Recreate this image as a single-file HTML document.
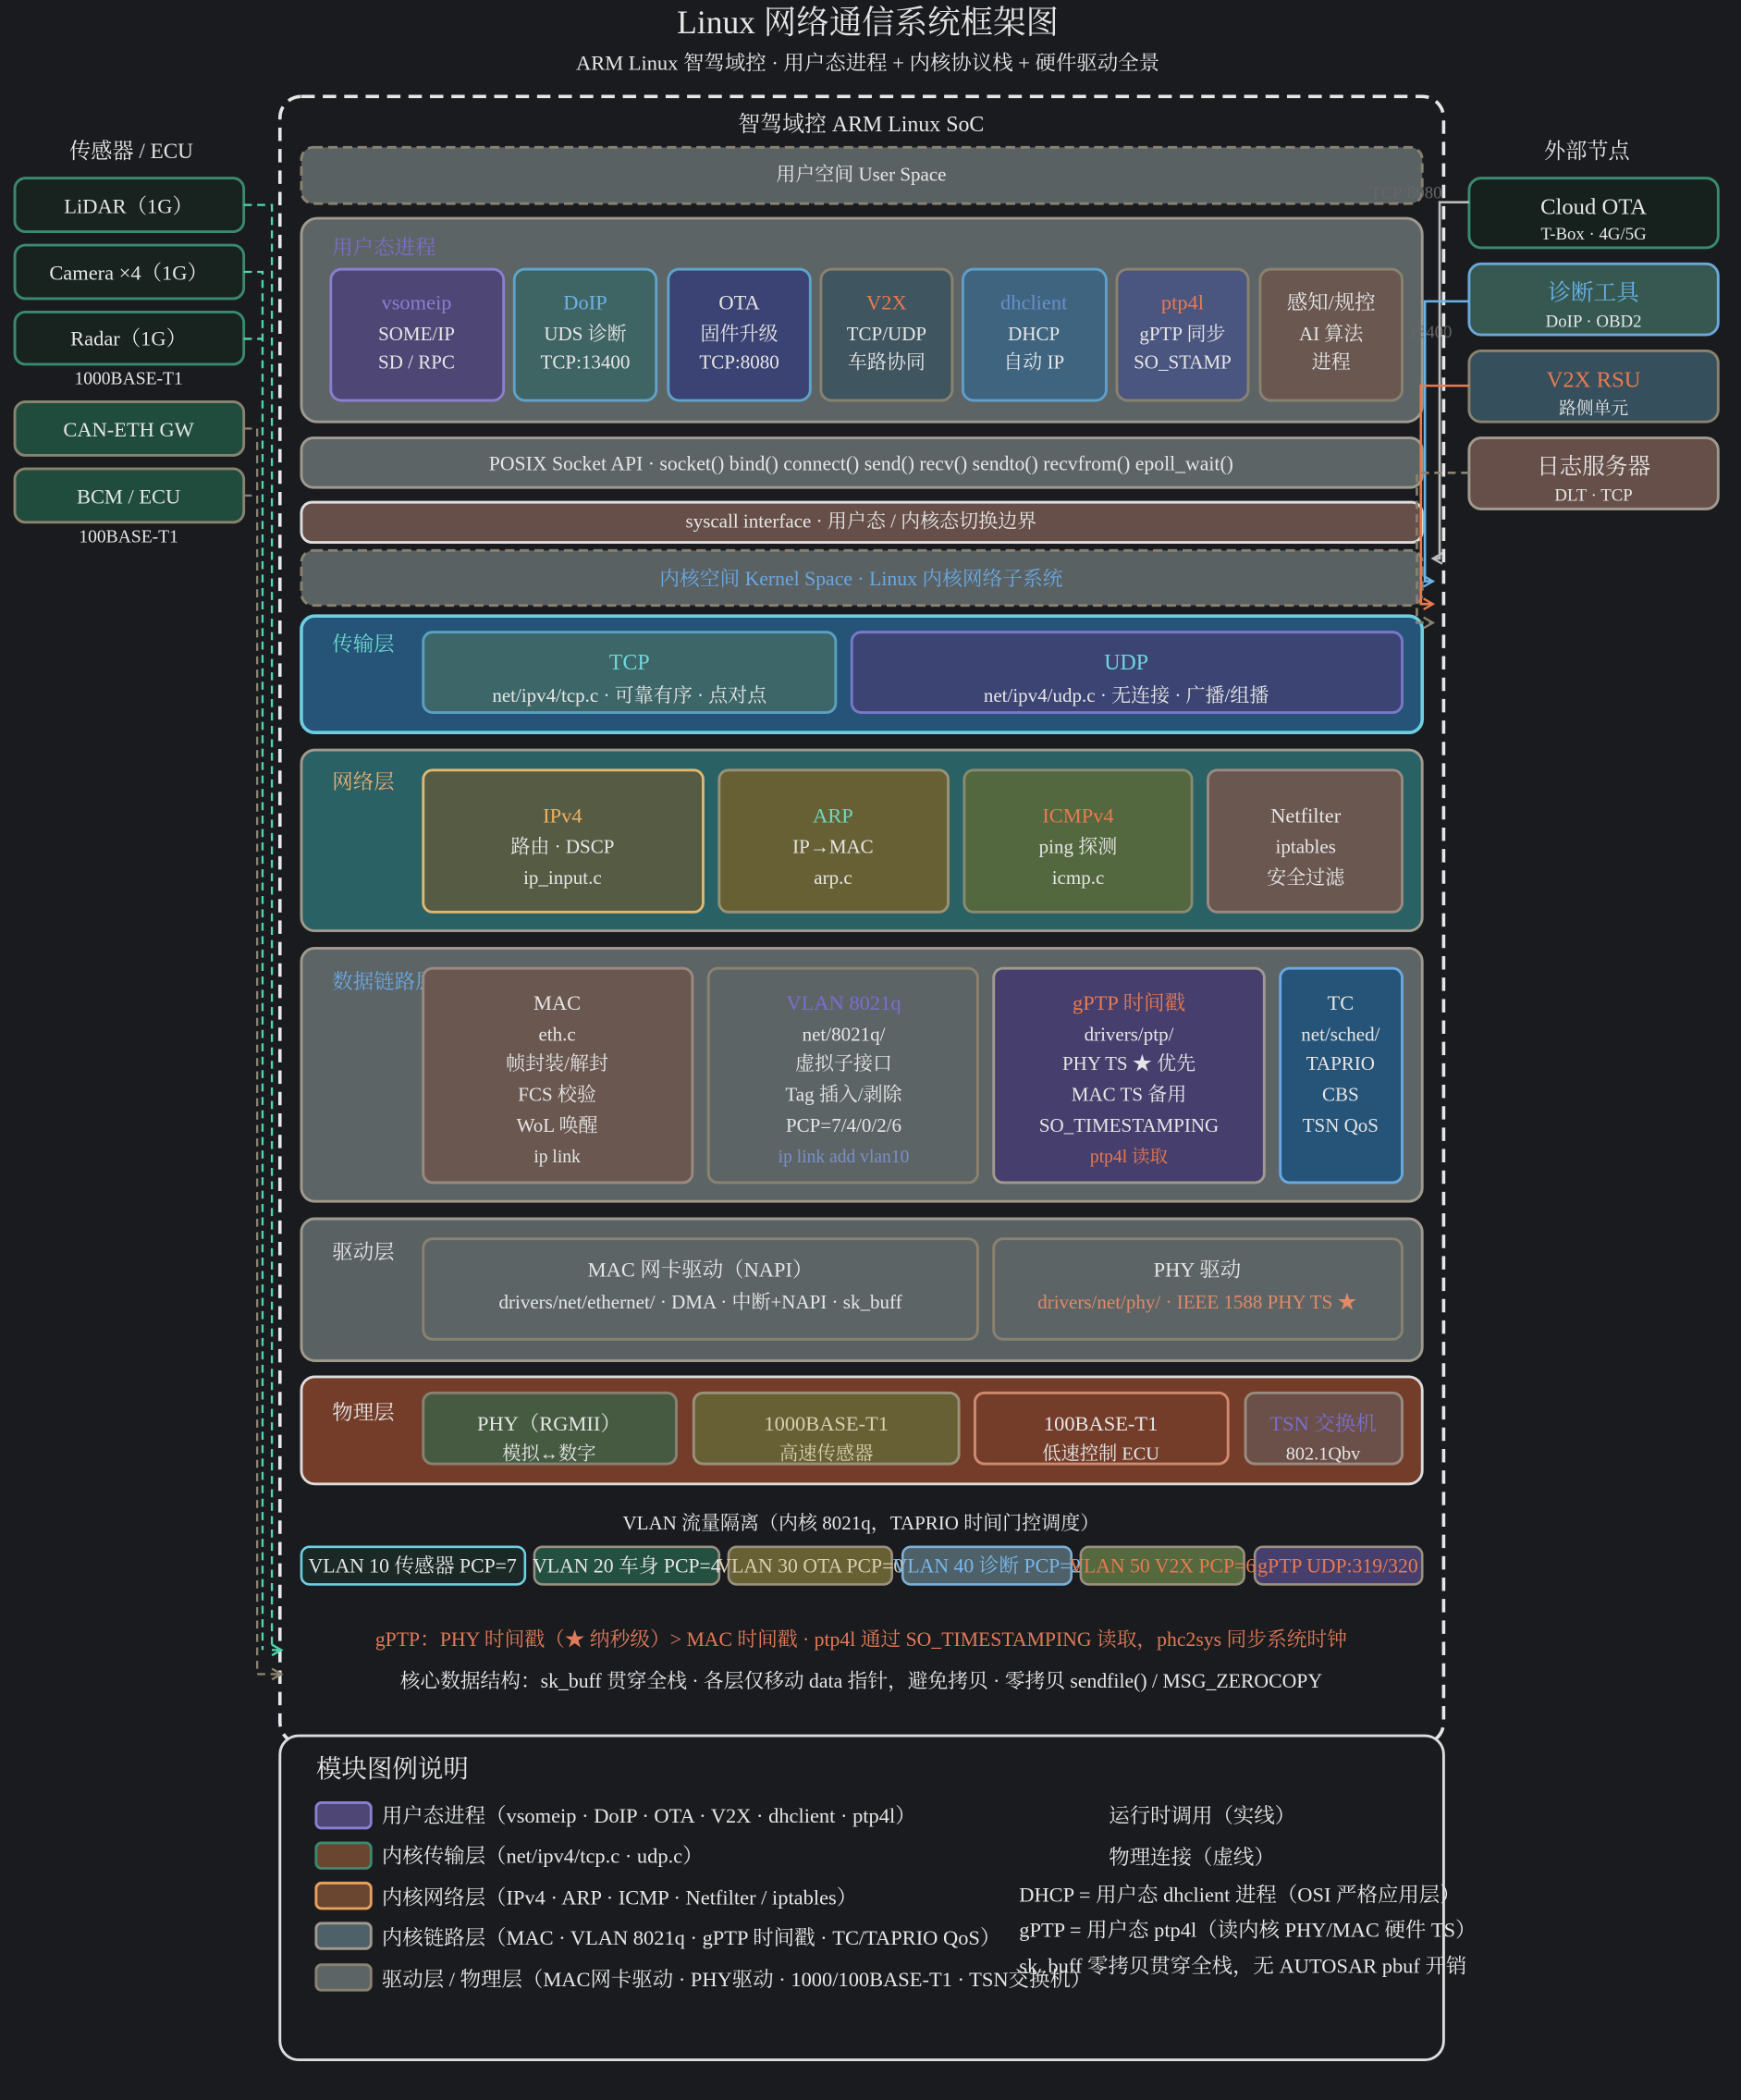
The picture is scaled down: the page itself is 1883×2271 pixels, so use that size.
<!DOCTYPE html>
<html><head><meta charset="utf-8"><style>
html,body{margin:0;padding:0;background:#1a1b1e;}
svg{display:block;}
text{font-family:"Liberation Serif","Noto Serif CJK SC",serif;fill:#e6e6e6;}
.c{text-anchor:middle;}
</style></head><body>
<svg width="1883" height="2271" viewBox="0 0 1300 1568" xmlns="http://www.w3.org/2000/svg">
<defs>
<marker id="ag" markerWidth="10" markerHeight="10" refX="8" refY="5" orient="auto" markerUnits="userSpaceOnUse"><path d="M1,1 L8,5 L1,9" fill="none" stroke="#bbb" stroke-width="1.6"/></marker>
<marker id="ab" markerWidth="10" markerHeight="10" refX="8" refY="5" orient="auto" markerUnits="userSpaceOnUse"><path d="M1,1 L8,5 L1,9" fill="none" stroke="#6ab4e8" stroke-width="1.6"/></marker>
<marker id="ao" markerWidth="10" markerHeight="10" refX="8" refY="5" orient="auto" markerUnits="userSpaceOnUse"><path d="M1,1 L8,5 L1,9" fill="none" stroke="#e87a50" stroke-width="1.6"/></marker>
<marker id="at" markerWidth="10" markerHeight="10" refX="8" refY="5" orient="auto" markerUnits="userSpaceOnUse"><path d="M1,1 L8,5 L1,9" fill="none" stroke="#4fd8b0" stroke-width="1.6"/></marker>
<marker id="ay" markerWidth="10" markerHeight="10" refX="8" refY="5" orient="auto" markerUnits="userSpaceOnUse"><path d="M1,1 L8,5 L1,9" fill="none" stroke="#8a8270" stroke-width="1.6"/></marker>
</defs>
<rect width="1300" height="1568" fill="#1a1b1e"/>

<text x="648" y="25" class="c" font-size="24.5">Linux 网络通信系统框架图</text>
<text x="648" y="52" class="c" font-size="15.5">ARM Linux 智驾域控 · 用户态进程 + 内核协议栈 + 硬件驱动全景</text>

<rect x="209" y="72" width="869" height="1230" rx="16" fill="none" stroke="#e6e6e6" stroke-width="2.5" stroke-dasharray="10,6"/>
<text x="643" y="98" class="c" font-size="16.5">智驾域控 ARM Linux SoC</text>

<rect x="225" y="110" width="837" height="42" rx="9" fill="#5a6163" stroke="#8a8270" stroke-width="2" stroke-dasharray="7,4"/>
<text x="643" y="135" class="c" font-size="14.5">用户空间 User Space</text>
<text x="1050" y="148" class="c" font-size="13" style="fill:#666">TCP:8080</text>

<rect x="225" y="163" width="837" height="152" rx="12" fill="#5d6466" stroke="#a09a8e" stroke-width="2"/>
<text x="248" y="190" font-size="15.5" style="fill:#7b6ec8">用户态进程</text>
<g font-size="14.5">
<rect x="247" y="201" width="129" height="98" rx="8" fill="#4e4674" stroke="#8a7fd0" stroke-width="2"/>
<text x="311" y="231" class="c" font-size="15.5" style="fill:#8a7fd0">vsomeip</text><text x="311" y="254" class="c">SOME/IP</text><text x="311" y="275" class="c">SD / RPC</text>
<rect x="384" y="201" width="106" height="98" rx="8" fill="#3f6464" stroke="#5fa3c8" stroke-width="2"/>
<text x="437" y="231" class="c" font-size="15.5" style="fill:#6cb4e8">DoIP</text><text x="437" y="254" class="c">UDS 诊断</text><text x="437" y="275" class="c">TCP:13400</text>
<rect x="499" y="201" width="106" height="98" rx="8" fill="#3b4374" stroke="#5fa3c8" stroke-width="2"/>
<text x="552" y="231" class="c" font-size="15.5">OTA</text><text x="552" y="254" class="c">固件升级</text><text x="552" y="275" class="c">TCP:8080</text>
<rect x="613" y="201" width="98" height="98" rx="8" fill="#3f5560" stroke="#8a8270" stroke-width="2"/>
<text x="662" y="231" class="c" font-size="15.5" style="fill:#e87a50">V2X</text><text x="662" y="254" class="c">TCP/UDP</text><text x="662" y="275" class="c">车路协同</text>
<rect x="719" y="201" width="107" height="98" rx="8" fill="#3e6480" stroke="#5f9fc8" stroke-width="2"/>
<text x="772" y="231" class="c" font-size="15.5" style="fill:#6a8fc8">dhclient</text><text x="772" y="254" class="c">DHCP</text><text x="772" y="275" class="c">自动 IP</text>
<rect x="834" y="201" width="98" height="98" rx="8" fill="#4a5580" stroke="#8a8270" stroke-width="2"/>
<text x="883" y="231" class="c" font-size="15.5" style="fill:#e87a50">ptp4l</text><text x="883" y="254" class="c">gPTP 同步</text><text x="883" y="275" class="c">SO_STAMP</text>
<rect x="941" y="201" width="106" height="98" rx="8" fill="#6a5750" stroke="#8a8270" stroke-width="2"/>
<text x="994" y="231" class="c" font-size="15.5">感知/规控</text><text x="994" y="254" class="c">AI 算法</text><text x="994" y="275" class="c">进程</text>
</g>
<text x="1068" y="252" class="c" font-size="13" style="fill:#666">13400</text>

<rect x="225" y="327" width="837" height="37" rx="9" fill="#5d6466" stroke="#a09a8e" stroke-width="2"/>
<text x="643" y="351" class="c" font-size="15">POSIX Socket API · socket() bind() connect() send() recv() sendto() recvfrom() epoll_wait()</text>
<rect x="225" y="375" width="837" height="30" rx="8" fill="#664f48" stroke="#dddddd" stroke-width="2"/>
<text x="643" y="394" class="c" font-size="14.5">syscall interface · 用户态 / 内核态切换边界</text>
<rect x="225" y="411" width="837" height="41" rx="9" fill="#5a6163" stroke="#8a8270" stroke-width="2" stroke-dasharray="7,4"/>
<text x="643" y="437" class="c" font-size="15" style="fill:#6aa8e0">内核空间 Kernel Space · Linux 内核网络子系统</text>

<rect x="225" y="460" width="837" height="87" rx="10" fill="#255478" stroke="#6ecfe0" stroke-width="2.5"/>
<text x="248" y="486" font-size="15.5" style="fill:#6ed8d0">传输层</text>
<rect x="316" y="472" width="308" height="60" rx="7" fill="#3d6668" stroke="#5aa0c0" stroke-width="2"/>
<text x="470" y="500" class="c" font-size="16.5" style="fill:#6ed8d8">TCP</text><text x="470" y="524" class="c" font-size="14.5">net/ipv4/tcp.c · 可靠有序 · 点对点</text>
<rect x="636" y="472" width="411" height="60" rx="7" fill="#3c4474" stroke="#7a78c8" stroke-width="2"/>
<text x="841" y="500" class="c" font-size="16.5" style="fill:#6ed8d8">UDP</text><text x="841" y="524" class="c" font-size="14.5">net/ipv4/udp.c · 无连接 · 广播/组播</text>

<rect x="225" y="560" width="837" height="135" rx="10" fill="#2a6165" stroke="#a09a8e" stroke-width="2"/>
<text x="248" y="589" font-size="15.5" style="fill:#e8b070">网络层</text>
<g font-size="14.5">
<rect x="316" y="575" width="209" height="106" rx="7" fill="#565c44" stroke="#e0b870" stroke-width="2"/>
<text x="420" y="614" class="c" font-size="15.5" style="fill:#f0b060">IPv4</text><text x="420" y="637" class="c">路由 · DSCP</text><text x="420" y="660" class="c">ip_input.c</text>
<rect x="537" y="575" width="171" height="106" rx="7" fill="#676034" stroke="#9a9278" stroke-width="2"/>
<text x="622" y="614" class="c" font-size="15.5" style="fill:#6ed8c0">ARP</text><text x="622" y="637" class="c">IP→MAC</text><text x="622" y="660" class="c">arp.c</text>
<rect x="720" y="575" width="170" height="106" rx="7" fill="#53683e" stroke="#8a8a70" stroke-width="2"/>
<text x="805" y="614" class="c" font-size="15.5" style="fill:#e87a50">ICMPv4</text><text x="805" y="637" class="c">ping 探测</text><text x="805" y="660" class="c">icmp.c</text>
<rect x="902" y="575" width="145" height="106" rx="7" fill="#6a5750" stroke="#9a8a80" stroke-width="2"/>
<text x="975" y="614" class="c" font-size="15.5">Netfilter</text><text x="975" y="637" class="c">iptables</text><text x="975" y="660" class="c">安全过滤</text>
</g>

<rect x="225" y="708" width="837" height="189" rx="10" fill="#5d6466" stroke="#a09a8e" stroke-width="2"/>
<text x="248" y="738" font-size="15.5" style="fill:#6aa8e0">数据链路层</text>
<g font-size="14.5">
<rect x="316" y="723" width="201" height="160" rx="7" fill="#6a5750" stroke="#9a8a80" stroke-width="2"/>
<text x="416" y="754" class="c" font-size="15.5">MAC</text><text x="416" y="777" class="c">eth.c</text><text x="416" y="799" class="c">帧封装/解封</text><text x="416" y="822" class="c">FCS 校验</text><text x="416" y="845" class="c">WoL 唤醒</text><text x="416" y="868" class="c" font-size="13.5">ip link</text>
<rect x="529" y="723" width="201" height="160" rx="7" fill="#5d6466" stroke="#8a8270" stroke-width="2"/>
<text x="630" y="754" class="c" font-size="15.5" style="fill:#7a6ed0">VLAN 8021q</text><text x="630" y="777" class="c">net/8021q/</text><text x="630" y="799" class="c">虚拟子接口</text><text x="630" y="822" class="c">Tag 插入/剥除</text><text x="630" y="845" class="c">PCP=7/4/0/2/6</text><text x="630" y="868" class="c" font-size="13.5" style="fill:#7a90c8">ip link add vlan10</text>
<rect x="742" y="723" width="202" height="160" rx="7" fill="#463e6c" stroke="#a09a8e" stroke-width="2"/>
<text x="843" y="754" class="c" font-size="15.5" style="fill:#e87a50">gPTP 时间戳</text><text x="843" y="777" class="c">drivers/ptp/</text><text x="843" y="799" class="c">PHY TS ★ 优先</text><text x="843" y="822" class="c">MAC TS 备用</text><text x="843" y="845" class="c">SO_TIMESTAMPING</text><text x="843" y="868" class="c" font-size="13.5" style="fill:#e87a50">ptp4l 读取</text>
<rect x="956" y="723" width="91" height="160" rx="7" fill="#255478" stroke="#6aa8e0" stroke-width="2"/>
<text x="1001" y="754" class="c" font-size="15.5">TC</text><text x="1001" y="777" class="c">net/sched/</text><text x="1001" y="799" class="c">TAPRIO</text><text x="1001" y="822" class="c">CBS</text><text x="1001" y="845" class="c">TSN QoS</text>
</g>

<rect x="225" y="910" width="837" height="106" rx="10" fill="#5a6163" stroke="#a09a8e" stroke-width="2"/>
<text x="248" y="940" font-size="15.5">驱动层</text>
<rect x="316" y="925" width="414" height="75" rx="7" fill="#5d6466" stroke="#8a8270" stroke-width="2"/>
<text x="523" y="953" class="c" font-size="15.5">MAC 网卡驱动（NAPI）</text><text x="523" y="977" class="c" font-size="14.5">drivers/net/ethernet/ · DMA · 中断+NAPI · sk_buff</text>
<rect x="742" y="925" width="305" height="75" rx="7" fill="#5d6466" stroke="#8a8270" stroke-width="2"/>
<text x="894" y="953" class="c" font-size="15.5">PHY 驱动</text><text x="894" y="977" class="c" font-size="14.5" style="fill:#e08a68">drivers/net/phy/ · IEEE 1588 PHY TS ★</text>

<rect x="225" y="1028" width="837" height="80" rx="10" fill="#743d2a" stroke="#dddddd" stroke-width="2"/>
<text x="248" y="1060" font-size="15.5">物理层</text>
<rect x="316" y="1040" width="189" height="53" rx="7" fill="#455a40" stroke="#8a8270" stroke-width="2"/>
<text x="410" y="1068" class="c" font-size="15.5">PHY（RGMII）</text><text x="410" y="1090" class="c" font-size="14">模拟↔数字</text>
<rect x="518" y="1040" width="198" height="53" rx="7" fill="#676034" stroke="#9a9278" stroke-width="2"/>
<text x="617" y="1068" class="c" font-size="15.5" style="fill:#d8d0b0">1000BASE-T1</text><text x="617" y="1090" class="c" font-size="14" style="fill:#d8d0b0">高速传感器</text>
<rect x="728" y="1040" width="189" height="53" rx="7" fill="#743d2a" stroke="#d08a70" stroke-width="2"/>
<text x="822" y="1068" class="c" font-size="15.5">100BASE-T1</text><text x="822" y="1090" class="c" font-size="14">低速控制 ECU</text>
<rect x="930" y="1040" width="117" height="53" rx="7" fill="#6a5048" stroke="#9a8a80" stroke-width="2"/>
<text x="988" y="1068" class="c" font-size="15.5" style="fill:#7a6ed0">TSN 交换机</text><text x="988" y="1090" class="c" font-size="14">802.1Qbv</text>

<text x="643" y="1142" class="c" font-size="14.5">VLAN 流量隔离（内核 8021q，TAPRIO 时间门控调度）</text>
<g font-size="15">
<rect x="225" y="1155" width="167" height="28" rx="6" fill="#1a2826" stroke="#6ecfe0" stroke-width="1.8"/>
<text x="308" y="1174" class="c">VLAN 10 传感器 PCP=7</text>
<rect x="399" y="1155" width="138" height="28" rx="6" fill="#235040" stroke="#9a9080" stroke-width="1.8"/>
<rect x="544" y="1155" width="122" height="28" rx="6" fill="#676034" stroke="#9a9080" stroke-width="1.8"/>
<rect x="674" y="1155" width="126" height="28" rx="6" fill="#4e6068" stroke="#7ab0d8" stroke-width="1.8"/>
<rect x="807" y="1155" width="122" height="28" rx="6" fill="#55683e" stroke="#9a9080" stroke-width="1.8"/>
<rect x="937" y="1155" width="125" height="28" rx="6" fill="#463e6c" stroke="#9a9080" stroke-width="1.8"/>
<text x="468" y="1174" class="c">VLAN 20 车身 PCP=4</text>
<text x="605" y="1174" class="c" style="fill:#d8d0b0">VLAN 30 OTA PCP=0</text>
<text x="737" y="1174" class="c" style="fill:#7ab8e8">VLAN 40 诊断 PCP=2</text>
<text x="868" y="1174" class="c" style="fill:#e87a50">VLAN 50 V2X PCP=6</text>
<text x="999" y="1174" class="c" style="fill:#e87a50">gPTP UDP:319/320</text>
</g>
<text x="643" y="1229" class="c" font-size="15" style="fill:#e07a58">gPTP：PHY 时间戳（★ 纳秒级）&gt; MAC 时间戳 · ptp4l 通过 SO_TIMESTAMPING 读取，phc2sys 同步系统时钟</text>
<text x="643" y="1260" class="c" font-size="15">核心数据结构：sk_buff 贯穿全栈 · 各层仅移动 data 指针，避免拷贝 · 零拷贝 sendfile() / MSG_ZEROCOPY</text>

<text x="98" y="118" class="c" font-size="16">传感器 / ECU</text>
<g font-size="15.5">
<rect x="11" y="133" width="171" height="40" rx="8" fill="#18231f" stroke="#3a8a70" stroke-width="2"/><text x="96" y="159" class="c">LiDAR（1G）</text>
<rect x="11" y="183" width="171" height="40" rx="8" fill="#18231f" stroke="#3a8a70" stroke-width="2"/><text x="96" y="209" class="c">Camera ×4（1G）</text>
<rect x="11" y="233" width="171" height="39" rx="8" fill="#18231f" stroke="#3a8a70" stroke-width="2"/><text x="96" y="258" class="c">Radar（1G）</text>
<rect x="11" y="300" width="171" height="40" rx="8" fill="#1f4c3c" stroke="#8a8270" stroke-width="2"/><text x="96" y="326" class="c">CAN-ETH GW</text>
<rect x="11" y="350" width="171" height="40" rx="8" fill="#1f4c3c" stroke="#8a8270" stroke-width="2"/><text x="96" y="376" class="c">BCM / ECU</text>
</g>
<text x="96" y="287" class="c" font-size="13.5">1000BASE-T1</text>
<text x="96" y="405" class="c" font-size="13.5">100BASE-T1</text>
<g fill="none" stroke-width="1.6" stroke-dasharray="6,4">
<path d="M182,153 H203 V1232 H210" stroke="#4fd8b0" marker-end="url(#at)"/>
<path d="M182,203 H196 V1232" stroke="#4fd8b0"/>
<path d="M182,253 H196" stroke="#4fd8b0"/>
<path d="M182,320 H192 V1250 H210" stroke="#8a8270" marker-end="url(#ay)"/>
<path d="M182,370 H192" stroke="#8a8270"/>
</g>

<text x="1185" y="118" class="c" font-size="16">外部节点</text>
<rect x="1097" y="133" width="186" height="52" rx="9" fill="#16211e" stroke="#3a8a70" stroke-width="2"/>
<text x="1190" y="160" class="c" font-size="17">Cloud OTA</text><text x="1190" y="179" class="c" font-size="13">T-Box · 4G/5G</text>
<rect x="1097" y="197" width="186" height="53" rx="9" fill="#365850" stroke="#6aa8d8" stroke-width="2"/>
<text x="1190" y="224" class="c" font-size="17" style="fill:#6ab4e8">诊断工具</text><text x="1190" y="244" class="c" font-size="13">DoIP · OBD2</text>
<rect x="1097" y="262" width="186" height="53" rx="9" fill="#354f5c" stroke="#8a8270" stroke-width="2"/>
<text x="1190" y="289" class="c" font-size="17" style="fill:#e87a50">V2X RSU</text><text x="1190" y="309" class="c" font-size="13">路侧单元</text>
<rect x="1097" y="327" width="186" height="53" rx="9" fill="#664f48" stroke="#a09a8e" stroke-width="2"/>
<text x="1190" y="354" class="c" font-size="17">日志服务器</text><text x="1190" y="374" class="c" font-size="13">DLT · TCP</text>
<g fill="none" stroke-width="1.8">
<path d="M1097,151 H1075 V417 H1070" stroke="#bbbbbb" marker-end="url(#ag)"/>
<path d="M1097,225 H1064 V434 H1070" stroke="#6ab4e8" marker-end="url(#ab)"/>
<path d="M1097,288 H1061 V451 H1070" stroke="#e87a50" marker-end="url(#ao)"/>
<path d="M1097,353 H1058 V465 H1070" stroke="#8a8270" stroke-dasharray="6,4" marker-end="url(#ay)"/>
</g>

<rect x="209" y="1296" width="869" height="242" rx="14" fill="#1a1b1e" stroke="#dddddd" stroke-width="2"/>
<text x="236" y="1327" font-size="19">模块图例说明</text>
<g font-size="15.5">
<rect x="236" y="1346" width="41" height="19" rx="4" fill="#4e4674" stroke="#8a7fd0" stroke-width="2"/><text x="285" y="1361">用户态进程（vsomeip · DoIP · OTA · V2X · dhclient · ptp4l）</text>
<rect x="236" y="1376" width="41" height="19" rx="4" fill="#6a4530" stroke="#3a8a70" stroke-width="2"/><text x="285" y="1391">内核传输层（net/ipv4/tcp.c · udp.c）</text>
<rect x="236" y="1406" width="41" height="19" rx="4" fill="#6a4530" stroke="#e8a060" stroke-width="2"/><text x="285" y="1422">内核网络层（IPv4 · ARP · ICMP · Netfilter / iptables）</text>
<rect x="236" y="1436" width="41" height="19" rx="4" fill="#4e6068" stroke="#a09a8e" stroke-width="2"/><text x="285" y="1452">内核链路层（MAC · VLAN 8021q · gPTP 时间戳 · TC/TAPRIO QoS）</text>
<rect x="236" y="1467" width="41" height="19" rx="4" fill="#5d6466" stroke="#8a8270" stroke-width="2"/><text x="285" y="1483">驱动层 / 物理层（MAC网卡驱动 · PHY驱动 · 1000/100BASE-T1 · TSN交换机）</text>
<text x="828" y="1361">运行时调用（实线）</text>
<text x="828" y="1392">物理连接（虚线）</text>
<text x="761" y="1420">DHCP = 用户态 dhclient 进程（OSI 严格应用层）</text>
<text x="761" y="1446">gPTP = 用户态 ptp4l（读内核 PHY/MAC 硬件 TS）</text>
<text x="761" y="1473">sk_buff 零拷贝贯穿全栈，无 AUTOSAR pbuf 开销</text>
</g>
</svg>
</body></html>
